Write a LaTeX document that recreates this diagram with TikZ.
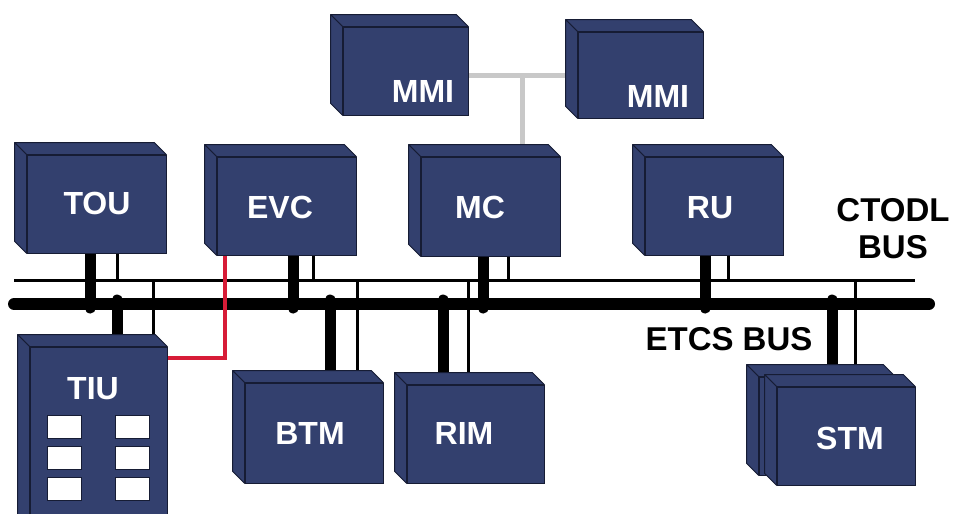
\documentclass[tikz,border=0pt]{standalone}
\usepackage{fontspec}
\setmainfont{Liberation Sans}
\usetikzlibrary{calc}
\definecolor{boxblue}{RGB}{51,64,110}
\definecolor{boxedge}{RGB}{22,28,52}
\definecolor{busred}{RGB}{215,28,55}
\definecolor{linkgray}{RGB}{200,200,200}
\tikzset{
  front/.style={draw=boxedge, fill=boxblue, line width=0.8pt, inner sep=0pt, rectangle},
  face/.style={draw=boxedge, fill=boxblue, line width=0.8pt, line join=round},
  boxlbl/.style={text=white, font=\fontsize{32}{36}\selectfont\bfseries, inner sep=0pt},
  buslbl/.style={text=black, font=\fontsize{33}{37}\selectfont\bfseries, inner sep=0pt, align=center},
  bigstub/.style={line width=11pt, line cap=round},
  smallstub/.style={line width=3pt},
  etcsbus/.style={line width=12pt, line cap=round},
  ctodlbus/.style={line width=3pt},
  redlink/.style={draw=busred, line width=3.5pt},
  graylink/.style={draw=linkgray, line width=5pt},
  keypad/.style={fill=white, draw=boxedge, line width=0.6pt}
}
\newcommand\unitbox[5]{%
  \node[front, minimum width={#4pt-#2pt}, minimum height={#5pt-#3pt}] (#1) at ({(#2+#4)/2},{(#3+#5)/2}) {};
  \draw[face] (#1.north west) -- ++(-12,-12) -- ($(#1.north east)+(-12,-12)$) -- (#1.north east) -- cycle;
  \draw[face] (#1.north west) -- ++(-12,-12) -- ($(#1.south west)+(-12,-12)$) -- (#1.south west) -- cycle;
}
\begin{document}
\begin{tikzpicture}[x=1pt,y=-1pt]
\path[use as bounding box] (0,0) rectangle (954,514);
\clip (0,0) rectangle (954,514);
\fill[white] (0,0) rectangle (954,514);

% bus end points and tap coordinates
\coordinate (cL) at (14,280);
\coordinate (cR) at (915,280);
\coordinate (eL) at (14,304);
\coordinate (eR) at (929,304);

\coordinate (tT) at (90,308);   \coordinate (tt) at (117,280);
\coordinate (iT) at (117,300);  \coordinate (it) at (153,280);
\coordinate (vT) at (293,308);  \coordinate (vt) at (313,280);
\coordinate (bT) at (330,300);  \coordinate (bt) at (357,280);
\coordinate (rT) at (443,300);  \coordinate (rt) at (468,280);
\coordinate (mT) at (483,308);  \coordinate (mt) at (508,280);
\coordinate (uT) at (705,308);  \coordinate (ut) at (728,280);
\coordinate (sT) at (832,300);  \coordinate (st) at (855,280);
\coordinate (red) at (225,358);
\coordinate (gray) at (522,75);

% box geometry defined first (invisible) to get anchors
\begin{scope}[opacity=0]
\unitbox{tou}{27}{155}{166}{253}
\unitbox{evc}{217}{157}{356}{255}
\unitbox{mc}{421}{157}{560}{256}
\unitbox{ru}{645}{157}{783}{255}
\unitbox{mmia}{343}{27}{468}{115}
\unitbox{mmib}{578}{32}{703}{118}
\unitbox{tiu}{30}{347}{167}{530}
\unitbox{btm}{245}{383}{383}{483}
\unitbox{rim}{407}{385}{544}{483}
\unitbox{stmb}{759}{377}{895}{475}
\unitbox{stma}{777}{387}{915}{485}
\end{scope}

% gray MMI link
\draw[graylink] (mc.north -| gray) -- (gray);
\draw[graylink] (mmia.east |- gray) -- (mmib.west |- gray);

% buses
\draw[ctodlbus] (cL) -- (cR);
\draw[etcsbus] (eL) -- (eR);

% stubs
\draw[bigstub] (tou.south -| tT) -- (tT);
\draw[smallstub] (tou.south -| tt) -- (tt);
\draw[bigstub] (tiu.north -| iT) -- (iT);
\draw[smallstub] ([yshift=12pt]tiu.north -| it) -- (it);
\draw[bigstub] (evc.south -| vT) -- (vT);
\draw[smallstub] (evc.south -| vt) -- (vt);
\draw[bigstub] ([yshift=12pt]btm.north -| bT) -- (bT);
\draw[smallstub] ([yshift=12pt]btm.north -| bt) -- (bt);
\draw[bigstub] ([yshift=12pt]rim.north -| rT) -- (rT);
\draw[smallstub] ([yshift=12pt]rim.north -| rt) -- (rt);
\draw[bigstub] (mc.south -| mT) -- (mT);
\draw[smallstub] (mc.south -| mt) -- (mt);
\draw[bigstub] (ru.south -| uT) -- (uT);
\draw[smallstub] (ru.south -| ut) -- (ut);
\draw[bigstub] ([yshift=12pt]stma.north -| sT) -- (sT);
\draw[smallstub] ([yshift=12pt]stma.north -| st) -- (st);

% red EVC - TIU link
\draw[redlink] (evc.south -| red) -- (red) -- (red -| tiu.east);

% visible boxes
\unitbox{tou}{27}{155}{166}{253}
\unitbox{evc}{217}{157}{356}{255}
\unitbox{mc}{421}{157}{560}{256}
\unitbox{ru}{645}{157}{783}{255}
\unitbox{mmia}{343}{27}{468}{115}
\unitbox{mmib}{578}{32}{703}{118}
\unitbox{tiu}{30}{347}{167}{530}
\unitbox{btm}{245}{383}{383}{483}
\unitbox{rim}{407}{385}{544}{483}
\unitbox{stmb}{759}{377}{895}{475}
\unitbox{stma}{777}{387}{915}{485}

% TIU keypad
\foreach \kx in {47,115} {
  \foreach \ky in {415,446,477} {
    \draw[keypad] (\kx,\ky) rectangle ++(34,23);
  }
}

% labels
\node[boxlbl] (toul) at (97,203) {TOU};
\node[boxlbl] (evcl) at (280,207) {EVC};
\node[boxlbl] (mcl) at (480,207) {MC};
\node[boxlbl] (rul) at (710,208) {RU};
\node[boxlbl] (mmial) at (423,91) {MMI};
\node[boxlbl] (mmibl) at (658,96) {MMI};
\node[boxlbl] (tiul) at (93,389) {TIU};
\node[boxlbl] (btml) at (310,433) {BTM};
\node[boxlbl] (riml) at (464,433) {RIM};
\node[boxlbl] (stml) at (850,438) {STM};
\node[buslbl] (ctodl) at (893,229) {CTODL\\BUS};
\node[buslbl] (etcs) at (729,339) {ETCS BUS};
\end{tikzpicture}
\end{document}
